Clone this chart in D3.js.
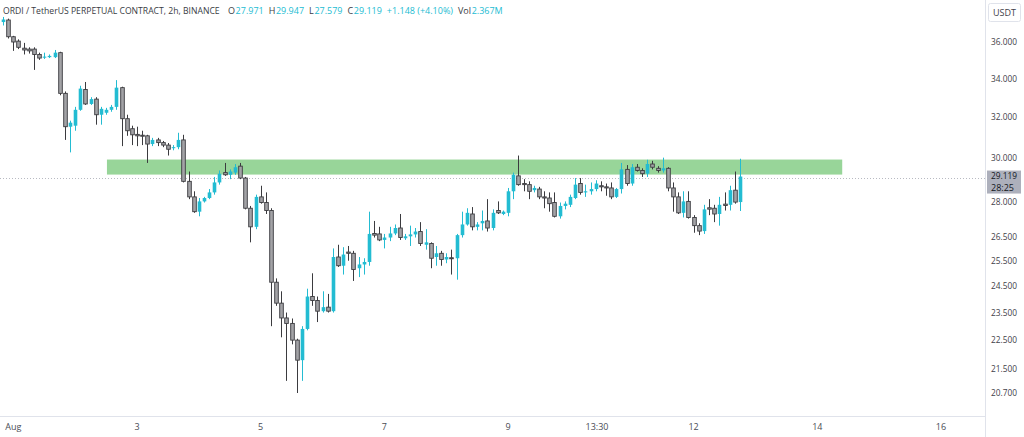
<!DOCTYPE html>
<html><head><meta charset="utf-8">
<script src="https://cdn.jsdelivr.net/npm/d3@7/dist/d3.min.js"></script>
<style>
html,body{margin:0;padding:0;background:#fff;}
svg{display:block;font-family:"Open Sans","Liberation Sans",sans-serif;}
</style></head>
<body>
<svg id="chart" width="1024" height="437"></svg>
<script>
// ---- data ----
const startTime = Date.UTC(2024, 6, 31, 20, 0); // first candle, 2h interval
const opens  = [37.15,37.27,36.3,36.05,35.65,35.6,35.6,35.3,35.12,35.15,35.15,35.4,33.2,31.5,31.55,32.35,33.4,32.65,32.9,32.1,32.2,32.35,32.5,33.5,31.9,31.4,31.12,31.08,31.05,30.65,30.85,30.72,30.6,30.45,30.5,30.85,28.9,28.2,27.55,28.0,28.15,28.4,28.85,29.3,29.2,29.3,29.6,29.05,27.7,26.9,28.2,27.95,27.6,24.65,23.85,23.3,23.1,22.5,21.8,22.9,24.1,23.95,23.55,23.7,23.55,25.65,25.3,25.85,25.8,25.2,25.35,25.45,26.62,26.6,26.35,26.45,26.62,26.85,26.42,26.5,26.58,26.7,26.15,26.2,25.65,25.8,25.55,25.62,25.6,26.55,27.0,27.45,26.9,27.05,27.15,26.85,27.6,27.45,27.5,28.45,29.15,28.8,28.75,28.5,28.55,28.2,28.15,27.95,27.35,27.8,27.85,28.15,28.8,28.4,28.45,28.55,28.7,28.65,28.6,28.2,28.55,29.45,28.8,29.55,29.4,29.25,29.7,29.5,29.4,29.5,28.6,28.2,27.5,28.0,27.3,26.95,26.72,27.72,27.7,27.45,27.88,27.85,28.5,27.971];
const highs  = [37.45,37.35,36.35,36.15,35.95,35.7,35.7,35.4,35.4,35.3,35.55,35.45,33.3,31.8,32.5,33.6,33.8,33.0,33.0,32.5,32.45,32.6,33.9,33.55,32.1,31.55,31.5,31.3,31.1,30.95,30.95,30.8,30.7,30.6,31.2,31.1,29.35,28.45,28.15,28.2,28.55,29.1,29.4,29.75,29.45,29.7,29.75,29.1,27.8,28.3,28.7,28.4,27.7,24.8,24.3,23.5,23.28,22.55,23.0,24.4,25.0,24.1,24.3,24.2,26.0,26.15,26.05,26.1,25.9,25.65,25.6,27.55,27.15,26.9,26.6,26.9,27.0,27.45,26.6,26.95,26.85,27.1,26.8,26.25,26.1,25.9,25.8,25.95,26.6,27.55,27.7,27.75,27.1,27.6,28.1,27.65,28.0,27.6,28.6,29.3,30.1,29.0,28.9,28.7,28.65,28.45,28.4,28.4,27.95,28.0,28.3,29.05,29.05,28.75,28.85,28.95,28.9,28.8,28.85,28.6,29.75,29.65,29.7,29.7,29.5,29.9,29.85,29.6,30.0,29.55,28.85,28.4,28.45,28.45,27.4,27.05,27.85,28.1,27.85,28.2,28.4,28.7,29.35,29.947];
const lows   = [36.95,36.2,35.5,35.6,35.3,35.35,34.45,35.0,35.05,35.1,35.1,33.1,30.85,30.25,31.3,32.3,32.6,32.6,31.6,31.6,32.1,32.25,32.35,30.55,31.05,30.6,30.55,30.6,29.75,30.55,30.55,30.5,30.1,30.35,30.4,28.85,28.1,27.5,27.35,27.95,28.1,28.3,28.75,29.15,29.0,29.2,29.0,27.65,26.25,26.8,27.9,27.45,23.0,23.75,22.6,21.1,22.35,20.7,21.1,22.85,23.75,23.15,23.5,23.5,23.5,25.25,24.95,25.5,24.7,24.85,24.95,25.3,26.45,26.3,26.0,26.3,26.55,26.35,26.35,26.1,26.45,26.1,25.95,25.2,25.3,25.3,25.4,24.95,24.75,26.45,26.95,26.75,26.75,26.75,26.7,26.75,27.45,27.4,27.35,28.1,28.7,28.45,28.1,28.4,28.1,27.7,27.55,27.3,27.25,27.65,27.75,28.1,28.3,28.2,28.3,28.45,28.45,28.25,28.1,28.15,28.35,28.7,28.7,29.35,29.1,29.1,29.45,29.3,29.3,28.45,27.55,27.45,27.3,27.25,26.65,26.55,26.6,27.4,27.1,26.95,27.6,27.6,27.9,27.579];
const closes = [37.3,36.3,36.0,35.7,35.55,35.5,35.3,35.1,35.18,35.22,35.4,33.2,31.5,31.7,32.35,33.45,32.65,32.9,32.1,32.4,32.35,32.5,33.5,31.9,31.3,31.1,31.05,31.03,30.65,30.85,30.72,30.6,30.4,30.5,30.85,28.9,28.2,27.55,28.0,28.15,28.4,28.85,29.25,29.2,29.35,29.55,29.05,27.7,26.9,28.2,27.95,27.6,24.65,23.85,23.3,23.1,22.5,21.8,22.9,24.1,23.95,23.55,23.7,23.55,25.65,25.3,25.75,25.8,25.15,25.35,25.45,26.6,26.55,26.35,26.45,26.62,26.85,26.45,26.5,26.58,26.7,26.2,26.25,25.6,25.8,25.55,25.65,25.58,26.55,27.0,27.5,26.9,27.0,27.15,26.85,27.5,27.5,27.55,28.45,29.2,28.75,28.75,28.45,28.6,28.2,28.15,27.9,27.35,27.8,27.9,28.2,28.75,28.4,28.45,28.55,28.8,28.65,28.6,28.2,28.55,29.45,28.8,29.55,29.4,29.25,29.7,29.55,29.4,29.5,28.6,28.2,27.5,28.0,27.3,26.95,26.72,27.65,27.66,27.45,27.85,27.82,28.5,27.97,29.119];

const yTickValues = [36, 34, 32, 30, 28, 26.5, 25.5, 24.5, 23.5, 22.5, 21.5, 20.7];
const xTickDates  = [Date.UTC(2024,7,1), Date.UTC(2024,7,3), Date.UTC(2024,7,5), Date.UTC(2024,7,7), Date.UTC(2024,7,9), Date.UTC(2024,7,10,10,30), Date.UTC(2024,7,12), Date.UTC(2024,7,14), Date.UTC(2024,7,16)];
const xTickLabels = ["Aug", "3", "5", "7", "9", "13:30", "12", "14", "16"];

const zoneTime  = [Date.UTC(2024,7,2,12,20), Date.UTC(2024,7,14,9,40)];
const zonePrice = [29.21, 29.91];

const lastPrice = 29.119;
const countdown = "28:25";
const titleText = "ORDI / TetherUS PERPETUAL CONTRACT, 2h, BINANCE";
const headerKeys   = ["O", "H", "L", "C", "", "Vol"];
const headerValues = ["27.971", "29.947", "27.579", "29.119", "+1.148 (+4.10%)", "2.367M"];

const currency = "USDT";

// ---- build ----
const TWO_H = 2 * 3600 * 1000;
const candles = opens.map((o, i) => ({
  t: new Date(startTime + i * TWO_H), o, h: highs[i], l: lows[i], c: closes[i]
}));

const W = 1024, H = 437;
const plotRight = 985, plotBottom = 416;
const svg = d3.select("#chart");

const x = d3.scaleUtc()
  .domain([candles[0].t, candles[candles.length - 1].t])
  .range([3, 740]);
const y = d3.scaleLog().domain([20.7, 36]).range([393, 42]);

const UP = "#23bcd2", DOWN_FILL = "#a3a3a6", DOWN_LINE = "#3b3b3f";

// zone
svg.append("rect")
  .attr("x", x(new Date(zoneTime[0])))
  .attr("y", y(zonePrice[1]))
  .attr("width", x(new Date(zoneTime[1])) - x(new Date(zoneTime[0])))
  .attr("height", y(zonePrice[0]) - y(zonePrice[1]))
  .attr("fill", "#98d599");

// last price dotted line
svg.append("line")
  .attr("x1", 0).attr("x2", plotRight)
  .attr("y1", Math.round(y(lastPrice)) + 1.5).attr("y2", Math.round(y(lastPrice)) + 1.5)
  .attr("stroke", "#b8bac2").attr("stroke-width", 1).attr("stroke-dasharray", "1,2");

// candles
const bw = 3.6;
const g = svg.append("g");
const cg = g.selectAll("g.c").data(candles).join("g").attr("class", "c");
cg.append("line")
  .attr("x1", d => Math.round(x(d.t)) + 0.5).attr("x2", d => Math.round(x(d.t)) + 0.5)
  .attr("y1", d => y(d.h)).attr("y2", d => y(d.l))
  .attr("stroke", d => d.c >= d.o ? UP : DOWN_LINE).attr("stroke-width", 1);
cg.append("rect")
  .attr("x", d => Math.round(x(d.t)) + 0.5 - bw / 2)
  .attr("y", d => y(Math.max(d.o, d.c)))
  .attr("width", bw)
  .attr("height", d => Math.max(1, Math.abs(y(d.o) - y(d.c))))
  .attr("fill", d => d.c >= d.o ? UP : DOWN_FILL)
  .attr("stroke", d => d.c >= d.o ? UP : DOWN_LINE)
  .attr("stroke-width", d => d.c >= d.o ? 0 : 0.9);

// axes separators
svg.append("line").attr("x1", plotRight + 0.5).attr("x2", plotRight + 0.5).attr("y1", 0).attr("y2", H)
  .attr("stroke", "#e0e3eb");
svg.append("line").attr("x1", 0).attr("x2", plotRight).attr("y1", plotBottom + 0.5).attr("y2", plotBottom + 0.5)
  .attr("stroke", "#e0e3eb");

// y axis labels
const fmt = d3.format(".3f");
svg.append("g").selectAll("text").data(yTickValues).join("text")
  .attr("x", 991).attr("y", d => y(d)).attr("dy", "0.35em")
  .attr("font-size", 9.3).attr("fill", "#3f4149")
  .attr("textLength", 26).attr("lengthAdjust", "spacingAndGlyphs")
  .text(d => fmt(d));

// last price box
const ly = y(lastPrice);
svg.append("rect").attr("x", 987).attr("y", ly - 6).attr("width", 34).attr("height", 23)
  .attr("fill", "#adb0bc");
svg.append("text").attr("x", 991).attr("y", ly).attr("dy", "0.35em")
  .attr("font-size", 8.3).attr("fill", "#131722")
  .attr("textLength", 26).attr("lengthAdjust", "spacingAndGlyphs").text(fmt(lastPrice));
svg.append("text").attr("x", 991).attr("y", ly + 11.6).attr("dy", "0.35em")
  .attr("font-size", 8.3).attr("fill", "#131722")
  .attr("textLength", 23).attr("lengthAdjust", "spacingAndGlyphs").text(countdown);

// currency box
svg.append("rect").attr("x", 988.5).attr("y", 3.5).attr("width", 32).attr("height", 18).attr("rx", 2)
  .attr("fill", "#fff").attr("stroke", "#e0e3eb");
svg.append("text").attr("x", 1004.5).attr("y", 12.5).attr("dy", "0.35em").attr("text-anchor", "middle")
  .attr("font-size", 9).attr("fill", "#3f4149").text(currency);

// x axis labels
svg.append("g").selectAll("text").data(xTickDates).join("text")
  .attr("x", d => x(new Date(d))).attr("y", 427).attr("dy", "0.35em")
  .attr("text-anchor", "middle").attr("font-size", 9).attr("fill", "#4a4c55")
  .text((d, i) => xTickLabels[i]);

// header
const hy = 11;
const title = svg.append("text").attr("x", 3).attr("y", hy).attr("dy", "0.35em")
  .attr("font-size", 10).attr("fill", "#3a3c44").text(titleText);
const natural = title.node().getComputedTextLength();
title.attr("font-size", 10 * 217 / natural);
let cx = 228;
headerKeys.forEach((k, i) => {
  if (k) {
    const kt = svg.append("text").attr("x", cx).attr("y", hy).attr("dy", "0.35em")
      .attr("font-size", 9).attr("fill", "#3a3c44").text(k);
    cx += kt.node().getComputedTextLength() + 0.6;
  }
  const vt = svg.append("text").attr("x", cx).attr("y", hy).attr("dy", "0.35em")
    .attr("font-size", 9).attr("fill", UP).text(headerValues[i]);
  cx += vt.node().getComputedTextLength() + 5;
});
</script>
</body></html>
